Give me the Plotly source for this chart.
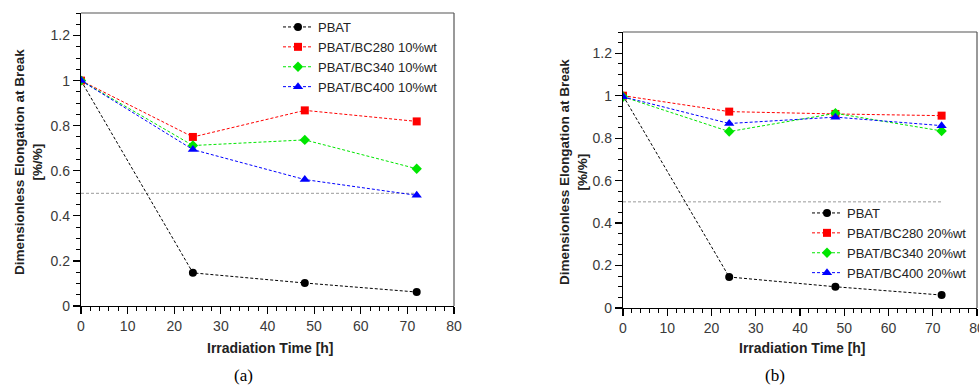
import plotly.graph_objects as go

W, H = 979, 385

# ---------------- data ----------------
time_h = [0, 24, 48, 72]

# panel (a) 10%wt
a_pbat = [1.0, 0.147, 0.102, 0.062]
a_bc280 = [1.0, 0.75, 0.868, 0.819]
a_bc340 = [1.0, 0.712, 0.737, 0.609]
a_bc400 = [1.0, 0.694, 0.561, 0.491]

# panel (b) 20%wt
b_pbat = [1.0, 0.146, 0.100, 0.061]
b_bc280 = [1.0, 0.925, 0.914, 0.906]
b_bc340 = [0.995, 0.831, 0.917, 0.834]
b_bc400 = [0.995, 0.869, 0.899, 0.859]

threshold_x = [0, 72]
threshold_y = [0.5, 0.5]

names_a = ["PBAT", "PBAT/BC280 10%wt", "PBAT/BC340 10%wt", "PBAT/BC400 10%wt"]
names_b = ["PBAT", "PBAT/BC280 20%wt", "PBAT/BC340 20%wt", "PBAT/BC400 20%wt"]

colors = ["#000000", "#ff0000", "#00e600", "#0000ff"]
symbols = ["circle", "square", "diamond", "triangle-up"]
sizes = [8, 8, 8, 9]

FONT = "Liberation Sans, Arial, sans-serif"


def px_x(p):
    return p / W


def px_y(p):
    return 1 - p / H


fig = go.Figure()

# threshold lines
for xa_, ya_ in [("x", "y"), ("x2", "y2")]:
    fig.add_trace(go.Scatter(x=threshold_x, y=threshold_y, mode="lines",
                             line=dict(color="#9a9a9a", width=1, dash="3px,2px"),
                             showlegend=False, hoverinfo="skip", xaxis=xa_, yaxis=ya_))

series_a = [a_pbat, a_bc280, a_bc340, a_bc400]
series_b = [b_pbat, b_bc280, b_bc340, b_bc400]

for i in range(4):
    fig.add_trace(go.Scatter(
        x=time_h, y=series_a[i], name=names_a[i], mode="lines+markers",
        line=dict(color=colors[i], width=1, dash="3px,2px"),
        marker=dict(color=colors[i], symbol=symbols[i], size=sizes[i], line=dict(width=0)),
        xaxis="x", yaxis="y", legend="legend"))
for i in range(4):
    fig.add_trace(go.Scatter(
        x=time_h, y=series_b[i], name=names_b[i], mode="lines+markers",
        line=dict(color=colors[i], width=1, dash="3px,2px"),
        marker=dict(color=colors[i], symbol=symbols[i], size=sizes[i], line=dict(width=0)),
        xaxis="x2", yaxis="y2", legend="legend2"))

axis_common = dict(showgrid=False, zeroline=False, showline=True, linecolor="#000000",
                   linewidth=1.2, ticks="outside", ticklen=7, tickwidth=1.2,
                   tickcolor="#000000", tickfont=dict(family=FONT, size=14, color="#3a3a3a"),
                   fixedrange=True, automargin=False, ticklabeloverflow="allow")

xa = dict(axis_common, range=[0, 80], dtick=10, tick0=0,
          minor=dict(ticks="outside", ticklen=4, dtick=2, tickcolor="#000000", tickwidth=1))
ya = dict(axis_common, range=[0, 1.3], dtick=0.2, tick0=0,
          tickvals=[0, 0.2, 0.4, 0.6, 0.8, 1, 1.2],
          ticktext=["0", "0.2", "0.4", "0.6", "0.8", "1", "1.2"],
          minor=dict(ticks="outside", ticklen=4, dtick=0.05, tick0=0, tickcolor="#000000", tickwidth=1))

# panel geometry (pixels)
A = dict(l=81, r=454, t=13, b=306)
B = dict(l=623, r=977, t=32, b=308)

legend_style = dict(xanchor="left", yanchor="top", bgcolor="rgba(0,0,0,0)",
                    font=dict(family=FONT, size=13, color="#222222"),
                    tracegroupgap=0, itemwidth=30, borderwidth=0)

fig.update_layout(
    template="none",
    width=W, height=H, margin=dict(l=0, r=0, t=0, b=0, autoexpand=False),
    paper_bgcolor="white", plot_bgcolor="white",
    font=dict(family=FONT, color="#222222"),
    xaxis=dict(xa, domain=[px_x(A["l"]), px_x(A["r"])], anchor="y"),
    yaxis=dict(ya, domain=[px_y(A["b"]), px_y(A["t"])], anchor="x"),
    xaxis2=dict(xa, domain=[px_x(B["l"]), px_x(B["r"])], anchor="y2"),
    yaxis2=dict(ya, domain=[px_y(B["b"]), px_y(B["t"])], anchor="x2"),
    legend=dict(legend_style, x=px_x(278), y=px_y(12)),
    legend2=dict(legend_style, x=px_x(807), y=px_y(198)),
    showlegend=True,
)

# gray top/right frame
for xr, yr in [("x domain", "y domain"), ("x2 domain", "y2 domain")]:
    fig.add_shape(type="line", xref=xr, yref=yr, x0=0, x1=1, y0=1, y1=1,
                  line=dict(color="#555555", width=1.2))
    fig.add_shape(type="line", xref=xr, yref=yr, x0=1, x1=1, y0=0, y1=1,
                  line=dict(color="#555555", width=1.2))

ytitle = "Dimensionless Elongation at Break<br>[%/%]"
for cx, cy in [(29, 162), (574, 172)]:
    fig.add_annotation(text="<b>" + ytitle + "</b>", textangle=-90, xref="paper", yref="paper",
                       x=px_x(cx), y=px_y(cy), xanchor="center", yanchor="middle",
                       showarrow=False, font=dict(family=FONT, size=13.5, color="#222222"))
for cx in [270, 802]:
    fig.add_annotation(text="<b>Irradiation Time [h]</b>", xref="paper", yref="paper",
                       x=px_x(cx), y=px_y(348), xanchor="center", yanchor="middle",
                       showarrow=False, font=dict(family=FONT, size=14, color="#222222"))
for lab, cx in [("(a)", 243), ("(b)", 775)]:
    fig.add_annotation(text=lab, xref="paper", yref="paper",
                       x=px_x(cx), y=px_y(375), xanchor="center", yanchor="middle",
                       showarrow=False, font=dict(family="Liberation Serif, serif", size=17, color="#000000"))

fig.write_html("out.html", config={"displayModeBar": False, "staticPlot": True},
               post_script="document.body.style.margin='0';document.body.style.overflow='hidden';")
